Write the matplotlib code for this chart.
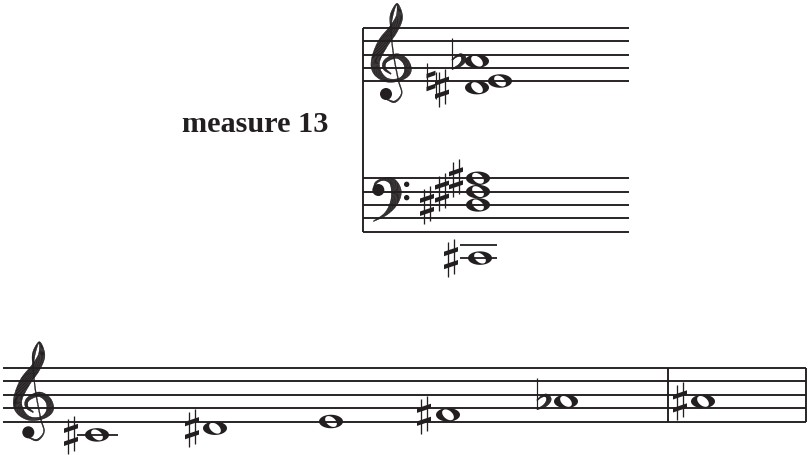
import numpy as np
import matplotlib
matplotlib.use("Agg")
import matplotlib.pyplot as plt
from matplotlib.patches import PathPatch, Polygon, Circle
from matplotlib.path import Path

INK = "#231f20"
LABEL = "measure 13"

# staff: (bottom line y, spacing, left x, right x)
STAFF_TOP = (81.0, 13.25, 363, 629)
STAFF_BASS = (231.5, 13.3, 363, 629)
STAFF_LOW = (421.5, 13.4, 3, 806)
BARLINES_LOW = [668, 806]

# notes: (x, diatonic step above bottom line)
TOP_NOTE_X = [477, 500, 477]
TOP_NOTE_STEP = [3, 0, -1]
BASS_NOTE_X = [478, 478, 478, 480]
BASS_NOTE_STEP = [8, 6, 4, -4]
LOW_NOTE_X = [97, 215, 331, 448, 566, 703]
LOW_NOTE_STEP = [-2, -1, 0, 1, 3, 3]

# accidentals: (kind, x, step)
TOP_ACC = [("flat", 452, 3), ("natural", 431, 0), ("sharp", 442, -1)]
BASS_ACC = [("sharp", 427, 4), ("sharp", 442, 6), ("sharp", 456, 8), ("sharp", 451, -4)]
LOW_ACC = [("sharp", 71, -2), ("sharp", 192, -1), ("sharp", 424, 1), ("flat", 537, 3), ("sharp", 680, 3)]

# clef outlines: centre line x, y, width in pixels*3
TREBLE_X = [108, 88, 92, 125, 152, 158, 135, 95, 66, 62, 84, 115, 133, 126, 110, 108, 115, 130, 140, 120, 95]
TREBLE_Y = [222, 205, 183, 168, 185, 215, 238, 240, 215, 180, 130, 88, 50, 12, 45, 90, 160, 240, 280, 305, 298]
TREBLE_W = [3, 8, 10, 14, 18, 20, 9, 12, 24, 26, 32, 28, 20, 4, 9, 3, 3, 3, 3, 5, 3]
BASS_X = [58, 62, 85, 112, 124, 116, 92, 55]
BASS_Y = [125, 100, 88, 95, 125, 160, 192, 214]
BASS_W = [4, 6, 7, 20, 30, 22, 9, 2]

fig = plt.figure(figsize=(8.1, 4.55), dpi=100)
ax = fig.add_axes([0, 0, 1, 1])
ax.set_xlim(0, 810)
ax.set_ylim(455, 0)
ax.axis("off")


def px(w):
    return w * 72 / 100


def catmull(p, n=14):
    p = np.asarray(p, float)
    q = np.vstack([2 * p[0] - p[1], p, 2 * p[-1] - p[-2]])
    out = []
    for i in range(1, len(q) - 2):
        a, b, c, d = q[i - 1], q[i], q[i + 1], q[i + 2]
        for t in np.linspace(0, 1, n, endpoint=False):
            out.append(0.5 * (2 * b + (c - a) * t + (2 * a - 5 * b + 4 * c - d) * t ** 2 + (3 * b - a - 3 * c + d) * t ** 3))
    out.append(p[-1])
    return np.array(out)


def brush(xs, ys, ws):
    """Filled stroke of varying width along a smooth centre line."""
    c = catmull(np.column_stack([xs, ys, ws]))
    xy, w = c[:, :2], np.maximum(c[:, 2], 0.3)
    d = np.gradient(xy, axis=0)
    d /= np.maximum(np.linalg.norm(d, axis=1, keepdims=True), 1e-6)
    nrm = np.column_stack([-d[:, 1], d[:, 0]])
    for i in range(len(xy) - 1):
        quad = [xy[i] + nrm[i] * w[i] / 2, xy[i + 1] + nrm[i + 1] * w[i + 1] / 2,
                xy[i + 1] - nrm[i + 1] * w[i + 1] / 2, xy[i] - nrm[i] * w[i] / 2]
        ax.add_patch(Polygon(quad, closed=True, fc=INK, ec=INK, lw=0.2, zorder=3))


def staff(s):
    y0, sp, x0, x1 = s
    ax.hlines([y0 - i * sp for i in range(5)], x0, x1, color=INK, lw=px(1.9), zorder=2)


def sy(s, step):
    return s[0] - step * s[1] / 2


def ellipse(w, h, ang=0.0, n=72, rev=False):
    t = np.linspace(0, 2 * np.pi, n)
    if rev:
        t = t[::-1]
    x, y = w / 2 * np.cos(t), h / 2 * np.sin(t)
    a = np.deg2rad(ang)
    return np.column_stack([x * np.cos(a) - y * np.sin(a), x * np.sin(a) + y * np.cos(a)])


def note(x, y):
    outer = ellipse(24, 13.5) + [x, y]
    inner = ellipse(13.5, 8.5, 40, rev=True) + [x, y]
    verts = np.vstack([outer, inner])
    codes = ([Path.MOVETO] + [Path.LINETO] * 71) * 2
    ax.add_patch(PathPatch(Path(verts, codes), fc=INK, ec="none", zorder=4))


def sharp(x, y):
    ax.vlines(x - 3.4, y - 16, y + 19, color=INK, lw=px(1.3), zorder=3)
    ax.vlines(x + 3.4, y - 19, y + 16, color=INK, lw=px(1.3), zorder=3)
    for dy in (-6.5, 6.5):
        ax.add_patch(Polygon([(x - 7, y + dy + 0.1), (x + 7, y + dy - 4.6), (x + 7, y + dy - 0.1), (x - 7, y + dy + 4.6)],
                             closed=True, fc=INK, ec="none", zorder=3))


def natural(x, y):
    ax.vlines(x - 4.5, y - 18, y + 8, color=INK, lw=px(1.2), zorder=3)
    ax.vlines(x + 4.5, y - 9, y + 18, color=INK, lw=px(1.2), zorder=3)
    for dy in (-6.5, 6.5):
        ax.add_patch(Polygon([(x - 4.5, y + dy - 0.6), (x + 4.5, y + dy - 3.8), (x + 4.5, y + dy + 0.6), (x - 4.5, y + dy + 3.8)],
                             closed=True, fc=INK, ec="none", zorder=3))


def flat(x, y):
    ax.vlines(x, y - 23, y + 8, color=INK, lw=px(1.2), zorder=3)
    brush([x, x + 4, x + 9, x + 12, x + 8, x], [y - 1, y - 4.5, y - 6, y - 2, y + 4, y + 8], [1, 1.5, 3, 4.5, 3, 0.8])


ACC = {"sharp": sharp, "natural": natural, "flat": flat}


def treble(ox, oy):
    brush(ox + np.array(TREBLE_X) / 3, oy + np.array(TREBLE_Y) / 3, np.array(TREBLE_W) / 3)
    ax.add_patch(Circle((ox + 93 / 3, oy + 282 / 3), 6, fc=INK, ec="none", zorder=3))


def bass(ox, oy):
    brush(ox + np.array(BASS_X) / 3, oy + np.array(BASS_Y) / 3, np.array(BASS_W) / 3)
    ax.add_patch(Circle((ox + 70 / 3, oy + 120 / 3), 6, fc=INK, ec="none", zorder=3))
    for zy in (103, 143):
        ax.add_patch(Circle((ox + 155 / 3, oy + zy / 3), 2.7, fc=INK, ec="none", zorder=3))


for s in (STAFF_TOP, STAFF_BASS, STAFF_LOW):
    staff(s)
ax.vlines(STAFF_TOP[2], sy(STAFF_TOP, 8), STAFF_BASS[0], color=INK, lw=px(1.9), zorder=2)
ax.vlines(BARLINES_LOW, sy(STAFF_LOW, 8), STAFF_LOW[0], color=INK, lw=px(1.9), zorder=2)

treble(355, 0)
bass(355, 150)
treble(-2.7, 338.3)

for s, xs, steps, accs in ((STAFF_TOP, TOP_NOTE_X, TOP_NOTE_STEP, TOP_ACC),
                           (STAFF_BASS, BASS_NOTE_X, BASS_NOTE_STEP, BASS_ACC),
                           (STAFF_LOW, LOW_NOTE_X, LOW_NOTE_STEP, LOW_ACC)):
    for x, st in zip(xs, steps):
        note(x, sy(s, st))
        if st <= -2:
            for led in range(-2, st - 1, -2):
                ax.hlines(sy(s, led), x - 20, x + 17 if s is STAFF_BASS else x + 21, color=INK, lw=px(1.8), zorder=2)
    for kind, x, st in accs:
        ACC[kind](x, sy(s, st))

ax.text(182, 124, LABEL, family="Liberation Serif", weight="bold", fontsize=21.8,
        color=INK, ha="left", va="center")

fig.savefig("out.png", dpi=100)
